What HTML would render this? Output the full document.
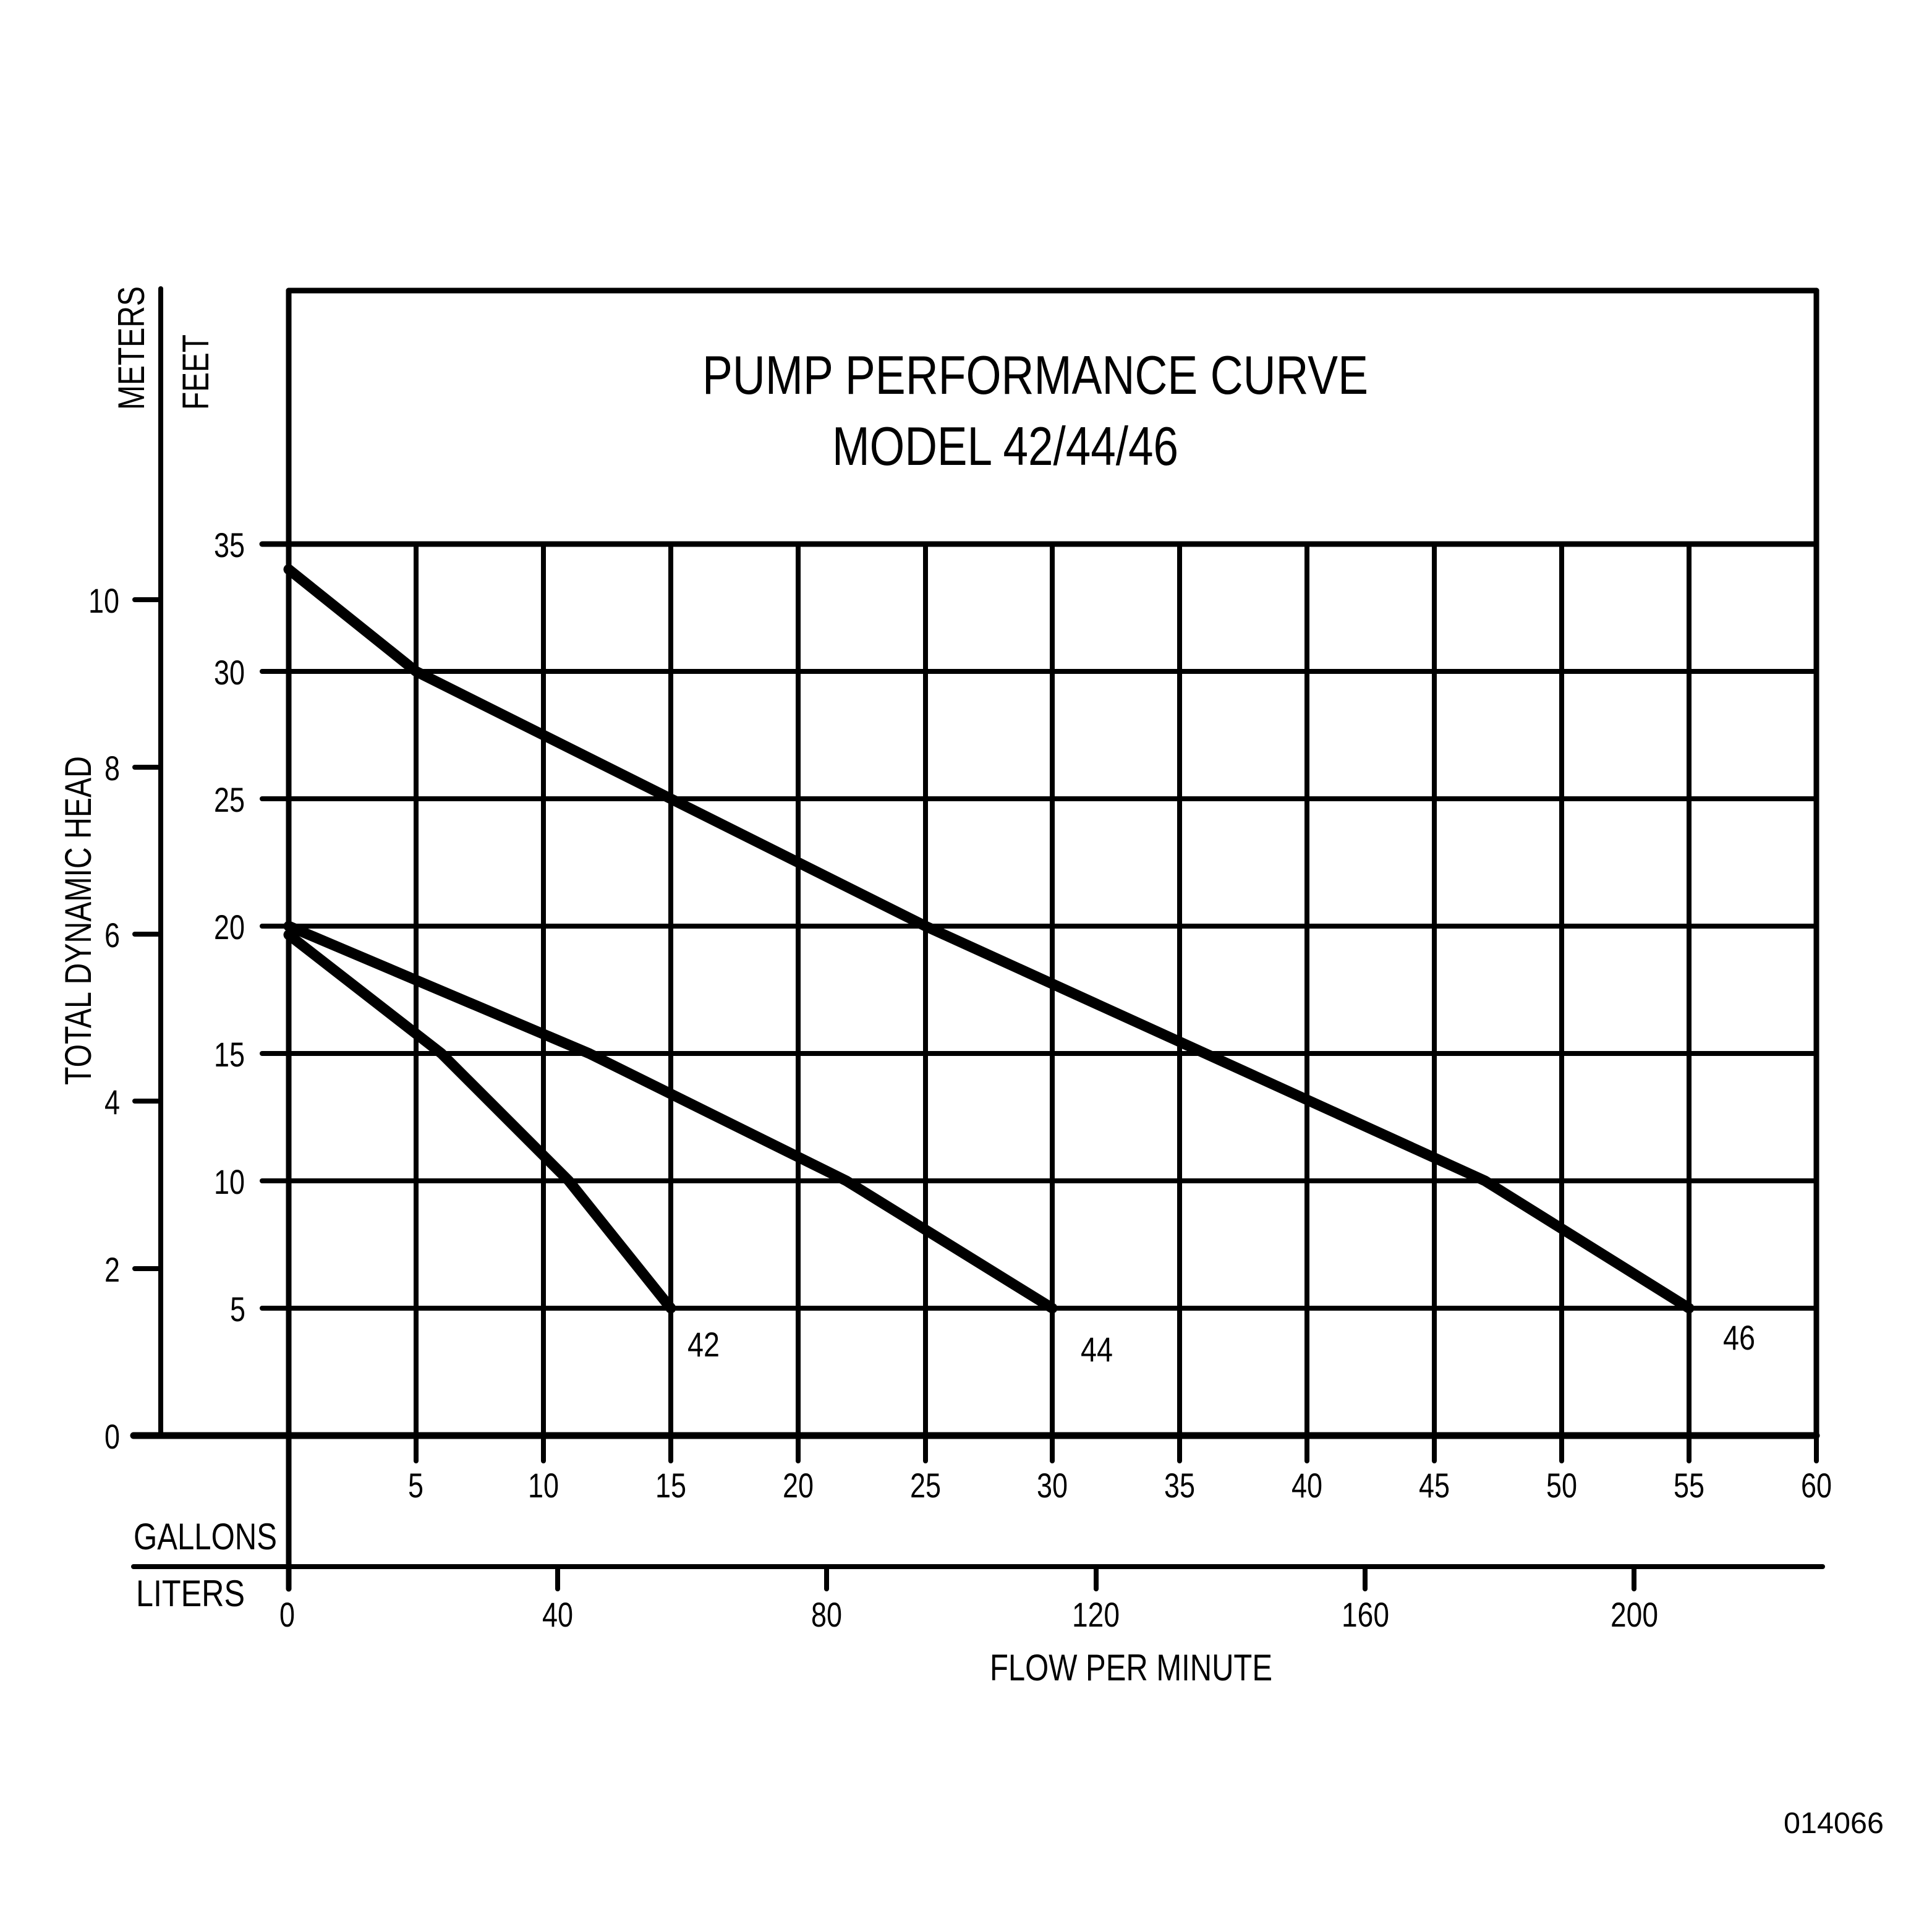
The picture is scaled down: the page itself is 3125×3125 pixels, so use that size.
<!DOCTYPE html>
<html><head><meta charset="utf-8"><style>
html,body{margin:0;padding:0;background:#fff}
svg{display:block}
text{font-family:"Liberation Sans",sans-serif;fill:#000}
</style></head><body>
<svg width="3125" height="3125" viewBox="0 0 3125 3125" xmlns="http://www.w3.org/2000/svg">
<rect width="3125" height="3125" fill="#fff"/>
<g stroke="#000" stroke-linecap="round" fill="none">
  <g stroke-width="8">
    <line x1="673" y1="880" x2="673" y2="2363"/>
    <line x1="879" y1="880" x2="879" y2="2363"/>
    <line x1="1085" y1="880" x2="1085" y2="2363"/>
    <line x1="1291" y1="880" x2="1291" y2="2363"/>
    <line x1="1497" y1="880" x2="1497" y2="2363"/>
    <line x1="1702" y1="880" x2="1702" y2="2363"/>
    <line x1="1908" y1="880" x2="1908" y2="2363"/>
    <line x1="2114" y1="880" x2="2114" y2="2363"/>
    <line x1="2320" y1="880" x2="2320" y2="2363"/>
    <line x1="2526" y1="880" x2="2526" y2="2363"/>
    <line x1="2732" y1="880" x2="2732" y2="2363"/>
    <line x1="2938" y1="2322" x2="2938" y2="2363"/>
    <line x1="424" y1="2116" x2="2938" y2="2116"/>
    <line x1="424" y1="1910" x2="2938" y2="1910"/>
    <line x1="424" y1="1704" x2="2938" y2="1704"/>
    <line x1="424" y1="1498" x2="2938" y2="1498"/>
    <line x1="424" y1="1292" x2="2938" y2="1292"/>
    <line x1="424" y1="1086" x2="2938" y2="1086"/>
    <line x1="260" y1="467" x2="260" y2="2322"/>
    <line x1="218" y1="970" x2="260" y2="970"/>
    <line x1="218" y1="1241" x2="260" y2="1241"/>
    <line x1="218" y1="1511" x2="260" y2="1511"/>
    <line x1="218" y1="1781" x2="260" y2="1781"/>
    <line x1="218" y1="2052" x2="260" y2="2052"/>
    <line x1="216" y1="2534" x2="2948" y2="2534"/>
    <line x1="902" y1="2534" x2="902" y2="2570"/>
    <line x1="1337" y1="2534" x2="1337" y2="2570"/>
    <line x1="1773" y1="2534" x2="1773" y2="2570"/>
    <line x1="2208" y1="2534" x2="2208" y2="2570"/>
    <line x1="2643" y1="2534" x2="2643" y2="2570"/>
  </g>
  <g stroke-width="9">
    <line x1="424" y1="880" x2="2938" y2="880"/>
    <line x1="467" y1="470" x2="467" y2="2570"/>
    <line x1="467" y1="470" x2="2938" y2="470"/>
    <line x1="2938" y1="470" x2="2938" y2="2322"/>
  </g>
  <line x1="216" y1="2322" x2="2938" y2="2322" stroke-width="11"/>
  <g stroke-width="17" stroke-linejoin="round">
    <polyline points="467,921 673,1086 1497,1498 2402,1910 2732,2116"/>
    <polyline points="467,1498 953,1704 1369,1910 1702,2116"/>
    <polyline points="467,1512 714,1704 920,1910 1085,2116"/>
  </g>
</g>
<g font-size="56">
  <text x="346" y="901" textLength="50" lengthAdjust="spacingAndGlyphs">35</text>
  <text x="346" y="1107" textLength="50" lengthAdjust="spacingAndGlyphs">30</text>
  <text x="346" y="1313" textLength="50" lengthAdjust="spacingAndGlyphs">25</text>
  <text x="346" y="1519" textLength="50" lengthAdjust="spacingAndGlyphs">20</text>
  <text x="346" y="1725" textLength="50" lengthAdjust="spacingAndGlyphs">15</text>
  <text x="346" y="1931" textLength="50" lengthAdjust="spacingAndGlyphs">10</text>
  <text x="372" y="2137" textLength="25" lengthAdjust="spacingAndGlyphs">5</text>
  <text x="143" y="991" textLength="50" lengthAdjust="spacingAndGlyphs">10</text>
  <text x="169" y="1262" textLength="25" lengthAdjust="spacingAndGlyphs">8</text>
  <text x="169" y="1532" textLength="25" lengthAdjust="spacingAndGlyphs">6</text>
  <text x="169" y="1802" textLength="25" lengthAdjust="spacingAndGlyphs">4</text>
  <text x="169" y="2073" textLength="25" lengthAdjust="spacingAndGlyphs">2</text>
  <text x="169" y="2343" textLength="25" lengthAdjust="spacingAndGlyphs">0</text>
  <text x="660" y="2422" textLength="25" lengthAdjust="spacingAndGlyphs">5</text>
  <text x="854" y="2422" textLength="50" lengthAdjust="spacingAndGlyphs">10</text>
  <text x="1060" y="2422" textLength="50" lengthAdjust="spacingAndGlyphs">15</text>
  <text x="1266" y="2422" textLength="50" lengthAdjust="spacingAndGlyphs">20</text>
  <text x="1472" y="2422" textLength="50" lengthAdjust="spacingAndGlyphs">25</text>
  <text x="1677" y="2422" textLength="50" lengthAdjust="spacingAndGlyphs">30</text>
  <text x="1883" y="2422" textLength="50" lengthAdjust="spacingAndGlyphs">35</text>
  <text x="2089" y="2422" textLength="50" lengthAdjust="spacingAndGlyphs">40</text>
  <text x="2295" y="2422" textLength="50" lengthAdjust="spacingAndGlyphs">45</text>
  <text x="2501" y="2422" textLength="50" lengthAdjust="spacingAndGlyphs">50</text>
  <text x="2707" y="2422" textLength="50" lengthAdjust="spacingAndGlyphs">55</text>
  <text x="2913" y="2422" textLength="50" lengthAdjust="spacingAndGlyphs">60</text>
  <text x="452" y="2631" textLength="25" lengthAdjust="spacingAndGlyphs">0</text>
  <text x="877" y="2631" textLength="50" lengthAdjust="spacingAndGlyphs">40</text>
  <text x="1312" y="2631" textLength="50" lengthAdjust="spacingAndGlyphs">80</text>
  <text x="1734" y="2631" textLength="77" lengthAdjust="spacingAndGlyphs">120</text>
  <text x="2170" y="2631" textLength="77" lengthAdjust="spacingAndGlyphs">160</text>
  <text x="2605" y="2631" textLength="77" lengthAdjust="spacingAndGlyphs">200</text>
  <text x="1112" y="2194" textLength="52" lengthAdjust="spacingAndGlyphs">42</text>
  <text x="1748" y="2202" textLength="52" lengthAdjust="spacingAndGlyphs">44</text>
  <text x="2787" y="2183" textLength="52" lengthAdjust="spacingAndGlyphs">46</text>
</g>
<g font-size="60">
  <text x="216" y="2506" textLength="232" lengthAdjust="spacingAndGlyphs">GALLONS</text>
  <text x="220" y="2598" textLength="176" lengthAdjust="spacingAndGlyphs">LITERS</text>
  <text x="1601" y="2718" textLength="457" lengthAdjust="spacingAndGlyphs">FLOW PER MINUTE</text>
  <text transform="translate(147,1755) rotate(-90)" textLength="532" lengthAdjust="spacingAndGlyphs">TOTAL DYNAMIC HEAD</text>
  <text transform="translate(233,663) rotate(-90)" textLength="200" lengthAdjust="spacingAndGlyphs">METERS</text>
  <text transform="translate(337,663) rotate(-90)" textLength="122" lengthAdjust="spacingAndGlyphs">FEET</text>
</g>
<g font-size="88">
  <text x="1136" y="637" textLength="1077" lengthAdjust="spacingAndGlyphs">PUMP PERFORMANCE CURVE</text>
  <text x="1346" y="752" textLength="560" lengthAdjust="spacingAndGlyphs">MODEL 42/44/46</text>
</g>
<text x="2885" y="2965" font-size="48" textLength="162" lengthAdjust="spacingAndGlyphs">014066</text>
</svg>
</body></html>
